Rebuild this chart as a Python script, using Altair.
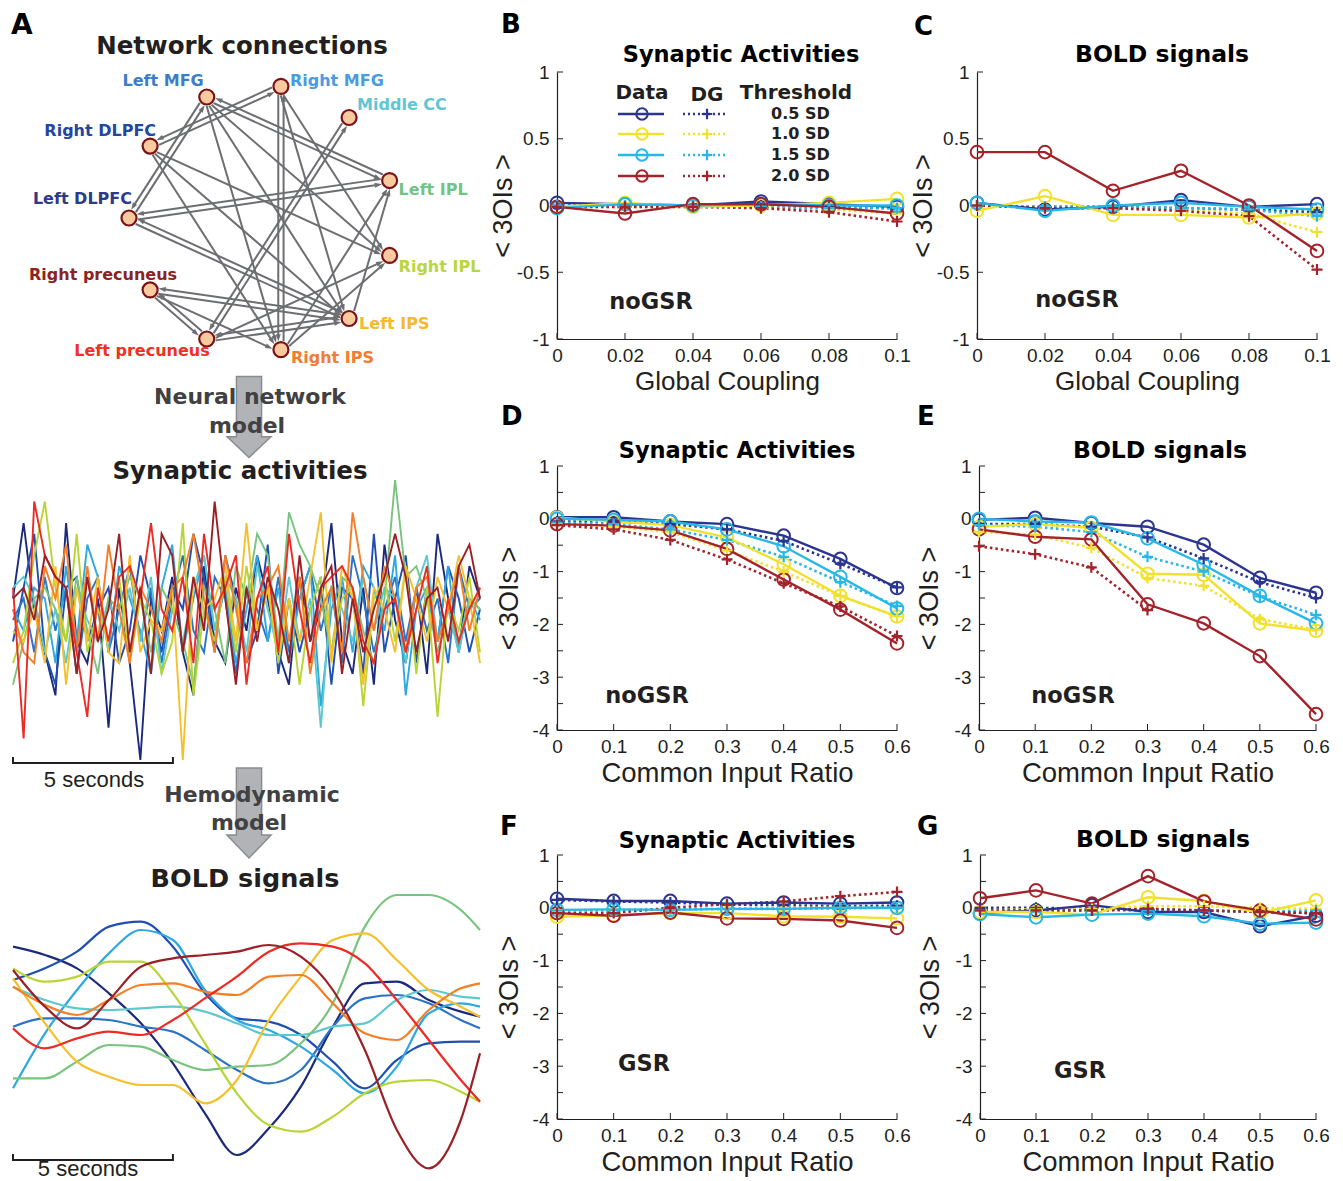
import math
import altair as alt
import pandas as pd

FONT = "Liberation Sans"
BFONT = "DejaVu Sans"
INK = "#231F20"
EDGE_GRAY = "#6D6E71"

# ---------------- Panel A : network ----------------
NODE_NAMES = ["Left DLPFC", "Right DLPFC", "Left MFG", "Right MFG", "Middle CC",
              "Left IPL", "Right IPL", "Left IPS", "Right IPS",
              "Left precuneus", "Right precuneus"]
NODE_COLORS = ["#2E3A87", "#2446A0", "#3D7CC9", "#4A9BE0", "#61C6D3",
               "#73C383", "#B9D641", "#F5B82E", "#F47B32", "#EE3124", "#8B2325"]
LABEL_ALIGN = ["right", "right", "right", "left", "left", "left", "left",
               "left", "left", "right", "right"]
LABEL_DX = [3, 6, -3, 9, 8, 9, 9, 10, 10, 3, 27]
LABEL_DY = [-19, -15, -16, -5, -12, 9, 12, 5, 8, 12, -15]
EDGE_SRC = [2, 0, 3, 1, 2, 5, 2, 2, 2, 3, 8, 3, 3, 4, 9, 1, 1, 1, 0, 5, 7, 0, 10, 9, 10, 7, 10, 9, 7, 9, 8, 8, 7]
EDGE_TGT = [0, 2, 1, 3, 5, 2, 6, 8, 7, 8, 3, 6, 7, 9, 4, 6, 7, 8, 5, 0, 0, 7, 9, 10, 7, 10, 8, 7, 9, 6, 5, 6, 5]

# ---------------- Panel A : time series ----------------
TS_COLORS = ["#1B2A7A", "#1F4FB0", "#2A73C6", "#2EA8E0", "#5CC8CF", "#78C47E",
             "#B8D535", "#F6C02C", "#F57E27", "#EE2A24", "#9B1F24"]
SYN_SPAN = 14.6
SYN = [
    [2, 9, 1, -3, -7, 9, -2, -4, 2, -10, 3, -4, -13, 2, -1, 4, -3, -7, 5, -2, -4, 3, -1, 6, 2, -3, -6, 4, -2, 1, 9, -2, -5, 3, -6, 7, 0, -4, 3, -5, 8, 2, -3, 5, 2],
    [-2, 3, 8, -3, -6, 3, 4, -2, 1, 3, -4, -1, 6, 2, -3, 3, 1, 8, 4, -3, 6, 2, -4, -1, 7, -5, 2, -3, 1, 4, -6, 3, 2, -5, 8, -3, 2, 6, -4, 3, -2, 5, 2, -3, 1],
    [0, 2, -3, 4, -1, 3, -5, 2, 4, -3, 1, 5, -2, 3, -4, 2, 6, -1, -3, 4, 2, -5, 3, 1, -2, 4, -3, 2, 5, -1, 3, -4, 6, 2, -3, 1, 4, -2, 3, -1, 2, -4, 5, 1, 2],
    [1, -1, 3, 2, -4, 5, -2, 7, 4, -3, 5, 2, -1, -5, 3, 7, -3, 2, 6, -1, 3, -4, 1, 6, -2, 3, -4, 2, 5, -8, 1, 4, -3, 5, 3, -1, 6, -7, 1, 3, -2, 5, -3, 2, 0],
    [3, 4, 2, -3, 1, -4, 3, 0, -2, 2, -1, 3, -2, 4, -5, 1, -2, 3, 6, -1, 4, 2, -3, 5, 1, -3, 4, -2, 2, -10, 3, 1, -2, 4, -1, 3, 2, -4, 3, 6, -2, 1, -3, 2, 1],
    [-6, -2, 2, 3, 1, -2, 4, -1, -5, 2, 1, 4, 2, -3, 3, 1, -2, -6, 3, 1, -4, 5, 2, 8, 6, -2, 10, 7, 5, 2, -3, 4, 3, -1, -4, 2, 13, 4, 5, 2, -3, 1, -2, 2, 1],
    [-4, -1, 6, 11, 3, -2, 8, -3, 1, -2, 4, -4, 2, 0, -5, -2, 9, -7, 1, -2, 4, -3, 5, -1, 3, -4, 2, -6, 1, 4, -3, 2, 3, -8, 2, 4, -2, 5, -5, 3, -9, 2, -1, 4, -3],
    [-1, -2, 1, -4, 5, -6, 3, -2, 4, -3, -4, 6, -3, 0, -1, 3, -13, 4, 1, 2, 5, -2, 9, -1, 3, -3, 2, -2, 4, 10, -4, 5, 2, -6, 3, 1, -3, 5, 2, -2, 4, 1, 6, 2, -4],
    [1, -3, -4, 5, 2, 7, -3, 5, -2, 7, 1, -4, 3, 1, -2, 3, 4, 8, 2, -3, 6, 1, -4, 2, 3, 5, -2, 4, -5, 1, 3, -3, 10, 4, -1, 5, 2, -3, 3, 4, -2, 1, 5, -1, 3],
    [3, -11, 11, 6, 4, 3, -3, -9, 3, -2, 4, 5, 2, 9, 1, -1, 4, -4, 8, 1, 3, 6, -6, 2, 5, -3, 8, 1, -4, 3, 4, 5, 3, -2, -4, 1, 2, -3, 1, 5, -4, 2, -2, 1, 3],
    [2, 3, 0, 6, 4, 3, -5, 4, -2, 1, 8, -3, 3, -5, 8, 6, -3, 4, -1, 11, 2, -6, 3, -2, 4, 1, -4, 6, -2, 3, 5, -5, 2, -3, 1, 4, 8, 4, -3, 2, 3, -2, 5, 7, 2],
]
BOLD_T = [0, 1, 2, 3, 4, 5, 6, 7, 8, 9, 10, 11, 12, 13, 14, 14.6]
BOLD = [
    [25, 22.5, 18.5, 11, 2, -10, -25, -37.5, -29.5, -17, 1, 14, 14.5, 9, 5.5, 4],
    [15, 18.5, 23.5, 31, 32.5, 25, 11, 3.5, 2.5, -1.5, -9.5, -17.5, -9, -4, -3.5, -3.5],
    [1, 3.5, 3.5, 3, 1, -0.5, -6, -12, -16, -12, 1, 9.5, 10.5, 8, 3, 0.5],
    [-17.5, -1, 12, 23, 30, 27, 12, 3, 0, -5, -12, -19, -11, 5, 8, 7],
    [13, 9, 6.5, 6, 6.5, 7, 5.5, 2, -1.5, -1.5, 1, 2, 9, 12, 10, 9.5],
    [-14.5, -14.5, -9.5, -4.5, -5, -9, -12, -11, -10.5, -4, 8, 31, 40.5, 40.5, 36, 30],
    [18.5, 14.5, 16, 20.5, 20.5, 11, -4, -19, -28.5, -30.5, -26, -19, -15.5, -15, -18.5, -21.5],
    [15.5, 2, -9.5, -14, -16.5, -16.5, -22, -15, 3, 16, 27, 29, 21, 12, 7, 4],
    [13, 7.5, 4.5, 9, 13.5, 14, 11.5, 10.5, 16, 16.5, 8, -1, -3, 6, 12.5, 14],
    [0.5, -5.5, -2.5, -0.5, -1.5, 3, 9.5, 16, 23.5, 26, 25, 20, 9, -3, -15, -21.5],
    [18, 7, 0.5, 9, 19, 21.5, 22.5, 23.5, 25.5, 22, 12, -6, -30, -41.5, -27, -7],
]

# ---------------- Panels B-G ----------------
THRESHOLDS = ["0.5 SD", "1.0 SD", "1.5 SD", "2.0 SD"]
THR_COLORS = ["#2B3590", "#F2E12C", "#27B8E8", "#A3232B"]
GC = [0, 0.02, 0.04, 0.06, 0.08, 0.1]
CIR = [0, 0.1, 0.2, 0.3, 0.4, 0.5, 0.6]

B_DATA = [[0.02, 0.01, 0.0, 0.03, 0.01, -0.01],
          [-0.01, 0.02, -0.01, 0.0, 0.02, 0.05],
          [-0.02, 0.01, 0.0, 0.01, 0.0, 0.0],
          [-0.01, -0.06, 0.01, 0.01, -0.01, -0.06]]
B_DG = [[0.0, 0.0, 0.0, 0.0, -0.01, -0.02],
        [-0.01, -0.01, -0.01, -0.01, -0.03, -0.06],
        [0.0, 0.0, 0.0, -0.01, -0.02, -0.02],
        [-0.01, -0.01, -0.01, -0.02, -0.05, -0.12]]
C_DATA = [[0.02, -0.03, -0.01, 0.04, -0.01, 0.01],
          [-0.04, 0.07, -0.07, -0.07, -0.09, -0.06],
          [0.02, -0.04, 0.0, 0.02, -0.01, -0.03],
          [0.40, 0.40, 0.11, 0.26, 0.0, -0.34]]
C_DG = [[0.0, -0.01, -0.01, -0.02, -0.03, -0.05],
        [0.0, -0.01, -0.02, -0.03, -0.06, -0.2],
        [0.0, -0.01, -0.01, -0.02, -0.03, -0.08],
        [0.0, -0.02, -0.02, -0.04, -0.08, -0.48]]
D_DATA = [[0.03, 0.03, -0.05, -0.1, -0.32, -0.76, -1.31],
          [0.02, -0.05, -0.12, -0.35, -0.86, -1.46, -1.85],
          [0.0, -0.02, -0.05, -0.2, -0.52, -1.1, -1.7],
          [-0.1, -0.13, -0.22, -0.57, -1.15, -1.72, -2.36]]
D_DG = [[-0.05, -0.05, -0.1, -0.2, -0.42, -0.85, -1.3],
        [-0.1, -0.15, -0.25, -0.6, -1.0, -1.46, -1.85],
        [-0.07, -0.1, -0.2, -0.4, -0.72, -1.2, -1.65],
        [-0.12, -0.2, -0.4, -0.77, -1.22, -1.66, -2.22]]
E_DATA = [[-0.02, 0.02, -0.08, -0.15, -0.49, -1.12, -1.4],
          [-0.15, -0.1, -0.17, -1.04, -1.06, -1.98, -2.12],
          [0.0, -0.05, -0.07, -0.37, -0.87, -1.46, -1.98],
          [-0.2, -0.34, -0.39, -1.62, -1.98, -2.6, -3.7]]
E_DG = [[-0.1, -0.1, -0.15, -0.35, -0.75, -1.2, -1.5],
        [-0.25, -0.3, -0.55, -1.12, -1.27, -1.9, -2.1],
        [-0.12, -0.15, -0.25, -0.72, -1.0, -1.47, -1.82],
        [-0.52, -0.67, -0.92, -1.73, None, None, None]]
F_DATA = [[0.17, 0.13, 0.13, 0.08, 0.1, 0.08, 0.1],
          [-0.17, -0.14, -0.1, -0.1, -0.16, -0.17, -0.2],
          [-0.04, -0.03, -0.04, -0.02, -0.02, 0.0, 0.0],
          [-0.1, -0.15, -0.09, -0.2, -0.21, -0.24, -0.38]]
F_DG = [[0.15, 0.12, 0.1, 0.06, 0.05, 0.03, 0.04],
        [-0.05, -0.05, -0.03, -0.02, 0.0, 0.0, 0.0],
        [-0.05, -0.04, -0.03, -0.02, -0.02, -0.01, 0.0],
        [-0.1, -0.1, 0.0, 0.07, 0.12, 0.22, 0.3]]
G_DATA = [[-0.1, -0.05, 0.05, -0.08, -0.08, -0.35, -0.15],
          [-0.08, -0.08, -0.13, 0.2, 0.13, -0.1, 0.14],
          [-0.12, -0.18, -0.13, -0.11, -0.16, -0.3, -0.28],
          [0.18, 0.33, 0.08, 0.6, 0.12, -0.05, -0.22]]
G_DG = [[0.0, 0.0, -0.02, -0.03, -0.05, -0.08, -0.1],
        [-0.05, -0.03, -0.02, 0.03, 0.03, 0.0, -0.02],
        [-0.05, -0.05, -0.05, -0.05, -0.05, -0.08, -0.05],
        [-0.05, -0.05, -0.05, -0.02, -0.05, -0.08, -0.1]]

PLUS = "M-1,0L1,0M0,-1L0,1"
ARROWHEAD = "M0,-1L0.6,0.75L-0.6,0.75Z"
ONE = pd.DataFrame({"k": [0]})


def txt(s, x, y, size, weight="bold", color=INK, align="center", baseline="middle", font=BFONT):
    return alt.Chart(pd.DataFrame({"s": [s]})).mark_text(
        font=font, fontSize=size, fontWeight=weight, color=color,
        align=align, baseline=baseline).encode(
        x=alt.value(x), y=alt.value(y), text="s:N")


# ---------- build panel A (local y = page y - 72) ----------
n = len(NODE_NAMES)
ang = [math.pi - k * 2 * math.pi / n for k in range(n)]
nx = [math.cos(a) for a in ang]
ny = [math.sin(a) for a in ang]
node_df = pd.DataFrame({"name": NODE_NAMES, "x": nx, "y": ny, "col": NODE_COLORS})

erows = []
for s, t in zip(EDGE_SRC, EDGE_TGT):
    dx, dy = nx[t] - nx[s], ny[t] - ny[s]
    L = math.hypot(dx, dy)
    ux, uy = dx / L, dy / L
    px, py = uy * 0.02, -ux * 0.02
    erows.append({
        "x1": nx[s] + ux * 0.065 + px, "y1": ny[s] + uy * 0.065 + py,
        "x2": nx[t] - ux * 0.1 + px, "y2": ny[t] - uy * 0.1 + py,
        "ax": nx[t] - ux * 0.092 + px, "ay": ny[t] - uy * 0.092 + py,
        "ang": math.degrees(math.atan2(ux, uy)) % 360,
    })
edge_df = pd.DataFrame(erows)

NETX = alt.Scale(domain=[-1, 1], range=[121, 387])
NETY = alt.Scale(domain=[-1, 1], range=[279, 13])

a_layers = []
# invisible anchor that fixes the top extent of panel A
a_layers.append(alt.Chart(ONE).mark_rule(color="white", strokeWidth=1, opacity=0).encode(
    x=alt.value(0), x2=alt.value(1), y=alt.value(-64)))
a_layers.append(alt.Chart(edge_df).mark_rule(color=EDGE_GRAY, strokeWidth=2).encode(
    x=alt.X("x1:Q", scale=NETX, axis=None), y=alt.Y("y1:Q", scale=NETY, axis=None),
    x2="x2:Q", y2="y2:Q"))
a_layers.append(alt.Chart(edge_df).mark_point(shape=ARROWHEAD, filled=True, size=70,
                                              color=EDGE_GRAY, opacity=1).encode(
    x=alt.X("ax:Q", scale=NETX, axis=None), y=alt.Y("ay:Q", scale=NETY, axis=None),
    angle=alt.Angle("ang:Q", scale=None)))
a_layers.append(alt.Chart(node_df).mark_point(shape="circle", filled=True, size=225,
                                              fill="#F9C9A0", stroke="#7A1315",
                                              strokeWidth=2.2, opacity=1).encode(
    x=alt.X("x:Q", scale=NETX, axis=None), y=alt.Y("y:Q", scale=NETY, axis=None)))
for k in range(n):
    a_layers.append(alt.Chart(node_df.iloc[[k]]).mark_text(
        font=BFONT, fontSize=16, fontWeight="bold", color=NODE_COLORS[k],
        align=LABEL_ALIGN[k], baseline="middle", dx=LABEL_DX[k], dy=LABEL_DY[k]).encode(
        x=alt.X("x:Q", scale=NETX, axis=None), y=alt.Y("y:Q", scale=NETY, axis=None),
        text="name:N"))

a_layers.append(txt("A", 3, -60, 28, baseline="top", align="left", color="black"))
a_layers.append(txt("Network connections", 234, -25, 24.5))

ARROW1 = "M-0.31,-1L0.31,-1L0.31,0.49L0.54,0.49L0,1L-0.54,0.49L-0.31,0.49Z"
ARROW2 = "M-0.28,-1L0.28,-1L0.28,0.49L0.49,0.49L0,1L-0.49,0.49L-0.28,0.49Z"
a_layers.append(alt.Chart(ONE).mark_point(shape=ARROW1, filled=True, size=6561,
                                          fill="#B1B3B6", stroke="#8A8C8E",
                                          strokeWidth=1.5, opacity=1).encode(
    x=alt.value(241), y=alt.value(345)))
a_layers.append(txt("Neural network", 242, 325, 22, color="#414042"))
a_layers.append(txt("model", 239, 354, 22, color="#414042"))
a_layers.append(txt("Synaptic activities", 232, 400, 24.5))

syn_rows = []
for i, (series, col) in enumerate(zip(SYN, TS_COLORS)):
    step = SYN_SPAN / (len(series) - 1)
    for j, v in enumerate(series):
        syn_rows.append({"sid": i, "t": j * step, "v": v, "col": col})
syn_df = pd.DataFrame(syn_rows)
SYNX = alt.Scale(domain=[0, SYN_SPAN], range=[5, 472])
SYNY = alt.Scale(domain=[-13, 13], range=[688, 408])
a_layers.append(alt.Chart(syn_df).mark_line(strokeWidth=1.9).encode(
    x=alt.X("t:Q", scale=SYNX, axis=None), y=alt.Y("v:Q", scale=SYNY, axis=None),
    color=alt.Color("col:N", scale=None), detail="sid:N"))
bar_df = pd.DataFrame({"t0": [0], "t1": [5]})
ends_df = pd.DataFrame({"t": [0, 5]})
a_layers.append(alt.Chart(bar_df).mark_rule(color=INK, strokeWidth=2).encode(
    x=alt.X("t0:Q", scale=SYNX, axis=None), x2="t1:Q", y=alt.value(691)))
a_layers.append(alt.Chart(ends_df).mark_rule(color=INK, strokeWidth=2).encode(
    x=alt.X("t:Q", scale=SYNX, axis=None), y=alt.value(685), y2=alt.value(692)))
a_layers.append(txt("5 seconds", 86, 708, 22, weight="normal", font=FONT))

a_layers.append(alt.Chart(ONE).mark_point(shape=ARROW2, filled=True, size=8100,
                                          fill="#B1B3B6", stroke="#8A8C8E",
                                          strokeWidth=1.5, opacity=1).encode(
    x=alt.value(241), y=alt.value(741)))
a_layers.append(txt("Hemodynamic", 244, 723, 22, color="#414042"))
a_layers.append(txt("model", 241, 751, 22, color="#414042"))
a_layers.append(txt("BOLD signals", 237, 807, 25.5))

bold_rows = []
for i, (series, col) in enumerate(zip(BOLD, TS_COLORS)):
    for t, v in zip(BOLD_T, series):
        bold_rows.append({"sid": i, "t": t, "v": v, "col": col})
bold_df = pd.DataFrame(bold_rows)
BX = alt.Scale(domain=[0, SYN_SPAN], range=[5, 472])
BY = alt.Scale(domain=[-42, 42], range=[1098, 818])
a_layers.append(alt.Chart(bold_df).mark_line(strokeWidth=2.2, interpolate="monotone").encode(
    x=alt.X("t:Q", scale=BX, axis=None), y=alt.Y("v:Q", scale=BY, axis=None),
    color=alt.Color("col:N", scale=None), detail="sid:N"))
a_layers.append(alt.Chart(bar_df).mark_rule(color=INK, strokeWidth=2).encode(
    x=alt.X("t0:Q", scale=BX, axis=None), x2="t1:Q", y=alt.value(1088)))
a_layers.append(alt.Chart(ends_df).mark_rule(color=INK, strokeWidth=2).encode(
    x=alt.X("t:Q", scale=BX, axis=None), y=alt.value(1082), y2=alt.value(1089)))
a_layers.append(txt("5 seconds", 80, 1097, 22, weight="normal", font=FONT))

panel_a = alt.layer(*a_layers).resolve_scale(x="independent", y="independent").properties(
    width=480, height=1096)


# ---------- build panels B-G ----------
def legend_layers():
    out = [txt("Data", 85, 21, 20), txt("DG", 150, 23, 20), txt("Threshold", 239, 21, 20)]
    ys = [42, 62, 83, 104]
    for thr, col, y in zip(THRESHOLDS, THR_COLORS, ys):
        out.append(alt.Chart(ONE).mark_rule(color=col, strokeWidth=2.4).encode(
            x=alt.value(61), x2=alt.value(107), y=alt.value(y)))
        out.append(alt.Chart(ONE).mark_point(shape="circle", filled=False, size=130,
                                             strokeWidth=2, color=col, opacity=1).encode(
            x=alt.value(85), y=alt.value(y)))
        out.append(alt.Chart(ONE).mark_rule(color=col, strokeWidth=2.4, strokeDash=[2, 3]).encode(
            x=alt.value(126), x2=alt.value(171), y=alt.value(y)))
        out.append(alt.Chart(ONE).mark_point(shape=PLUS, filled=False, size=110,
                                             strokeWidth=2.2, color=col, opacity=1).encode(
            x=alt.value(150), y=alt.value(y)))
        out.append(txt(thr, 214, y, 16, align="left"))
    return out


def panel(letter, title, title_size, xs, data_rows, dg_rows, xdom, xtitle, xtitle_size,
          ydom, yticks, ymarks, ytpad, tag, tag_x, tag_y, letter_x, letter_y,
          title_x, title_y, width, height, legend=False):
    recs = []
    for thr, drow, grow in zip(THRESHOLDS, data_rows, dg_rows):
        for x, v in zip(xs, drow):
            if v is not None:
                recs.append({"x": x, "v": v, "thr": thr, "kind": "Data"})
        for x, v in zip(xs, grow):
            if v is not None:
                recs.append({"x": x, "v": v, "thr": thr, "kind": "DG"})
    df = pd.DataFrame(recs)
    xenc = alt.X("x:Q", scale=alt.Scale(domain=xdom, nice=False, zero=False),
                 axis=alt.Axis(values=xs, title=xtitle, labelExpr="'' + datum.value",
                               ticks=False, grid=False, domainColor=INK, domainWidth=1.2,
                               labelFont=FONT, labelFontSize=19, labelColor=INK,
                               labelPadding=7, titleFont=FONT, titleFontSize=xtitle_size,
                               titleFontWeight="normal", titleColor=INK, titlePadding=3,
                               labelFlush=False))
    yenc = alt.Y("v:Q", scale=alt.Scale(domain=ydom, nice=False, zero=False),
                 axis=alt.Axis(values=yticks, title="< 3OIs >", labelExpr="'' + datum.value",
                               ticks=False, grid=False, domainColor=INK, domainWidth=1.2,
                               labelFont=FONT, labelFontSize=19, labelColor=INK,
                               labelPadding=8, titleFont=FONT, titleFontSize=27,
                               titleFontWeight="normal", titleColor=INK,
                               titlePadding=ytpad, labelFlush=False))
    color = alt.Color("thr:N", scale=alt.Scale(domain=THRESHOLDS, range=THR_COLORS), legend=None)
    base = alt.Chart(df).encode(x=xenc, y=yenc, color=color)
    layers = [
        alt.Chart(pd.DataFrame({"v": ymarks})).mark_rule(color=INK, strokeWidth=1).encode(
            y=yenc, x=alt.value(0), x2=alt.value(6)),
        alt.Chart(pd.DataFrame({"x": xs})).mark_rule(color=INK, strokeWidth=1).encode(
            x=xenc, y=alt.value(height), y2=alt.value(height - 6)),
        base.transform_filter("datum.kind == 'DG'").mark_line(strokeDash=[2.5, 3], strokeWidth=2.6),
        base.transform_filter("datum.kind == 'Data'").mark_line(strokeWidth=2.4),
        base.transform_filter("datum.kind == 'Data'").mark_point(
            shape="circle", filled=False, size=160, strokeWidth=2, opacity=1),
        base.transform_filter("datum.kind == 'DG'").mark_point(
            shape=PLUS, filled=False, size=120, strokeWidth=2.2, opacity=1),
        txt(tag, tag_x, tag_y, 22.5),
        txt(letter, letter_x, letter_y, 26, align="left", baseline="top", color="black"),
        txt(title, title_x, title_y, title_size, color="black"),
    ]
    if legend:
        layers += legend_layers()
    return alt.layer(*layers).properties(width=width, height=height)


Y1 = [-1, -0.5, 0, 0.5, 1]
Y4 = [-4, -3, -2, -1, 0, 1]
Y4M = [-4, -3.5, -3, -2.5, -2, -1.5, -1, -0.5, 0, 0.5, 1]
SA, BS = "Synaptic Activities", "BOLD signals"
GCT, CIT = "Global Coupling", "Common Input Ratio"

pB = panel("B", SA, 22.5, GC, B_DATA, B_DG, [0, 0.1], GCT, 26,
           [-1, 1], Y1, Y1, -1, "noGSR", 94, 230, -56, -60, 184, -17, 340, 267, legend=True)
pC = panel("C", BS, 23.5, GC, C_DATA, C_DG, [0, 0.1], GCT, 26,
           [-1, 1], Y1, Y1, -1, "noGSR", 100, 228, -63, -58, 185, -17, 340, 267)
pD = panel("D", SA, 22.5, CIR, D_DATA, D_DG, [0, 0.6], CIT, 27.5,
           [-4, 1], Y4, Y4M, 9, "noGSR", 90, 230, -56, -62, 180, -15, 340, 264)
pE = panel("E", BS, 23.5, CIR, E_DATA, E_DG, [0, 0.6], CIT, 27.5,
           [-4, 1], Y4, Y4M, 11, "noGSR", 94, 230, -62, -62, 181, -15, 337, 264)
pF = panel("F", SA, 22.5, CIR, F_DATA, F_DG, [0, 0.6], CIT, 27.5,
           [-4, 1], Y4, Y4M, 9, "GSR", 87, 209, -57, -41, 180, -14, 340, 264)
pG = panel("G", BS, 23.5, CIR, G_DATA, G_DG, [0, 0.6], CIT, 27.5,
           [-4, 1], Y4, Y4M, 11, "GSR", 100, 216, -63, -41, 183, -15, 336, 264)

row1 = alt.hconcat(pB, pC, spacing=-2)
row2 = alt.hconcat(pD, pE, spacing=4)
row3 = alt.hconcat(pF, pG, spacing=5)
grid = alt.vconcat(alt.vconcat(row1, row2, spacing=10), row3, spacing=27)

chart = alt.hconcat(panel_a, grid, spacing=1).properties(padding=0).configure_view(stroke=None)
chart.save("out.html", embed_options={"renderer": "svg", "actions": False})
